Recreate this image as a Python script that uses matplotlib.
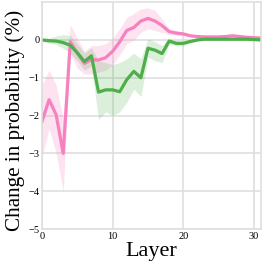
import numpy as np
import matplotlib
matplotlib.use("Agg")
import matplotlib.pyplot as plt

layers = np.arange(32)

pink_mean = [-2.15, -1.58, -1.98, -3.0, -0.05, -0.35, -0.62, -0.52, -0.53, -0.47,
             -0.3, -0.05, 0.25, 0.33, 0.5, 0.57, 0.5, 0.38, 0.22, 0.18,
             0.16, 0.11, 0.09, 0.08, 0.08, 0.08, 0.09, 0.11, 0.09, 0.07,
             0.06, 0.05]
pink_upper = [-1.2, -0.8, -1.2, -2.1, 0.4, 0.05, -0.3, -0.15, -0.15, -0.1,
              0.05, 0.3, 0.6, 0.7, 0.82, 0.85, 0.78, 0.55, 0.3, 0.25,
              0.2, 0.14, 0.12, 0.11, 0.11, 0.11, 0.12, 0.14, 0.12, 0.1,
              0.09, 0.08]
pink_lower = [-3.1, -2.35, -3.0, -4.0, -0.35, -0.75, -0.9, -0.9, -0.85, -0.8,
              -0.65, -0.4, -0.1, 0.0, 0.2, 0.3, 0.25, 0.2, 0.14, 0.12,
              0.12, 0.08, 0.06, 0.05, 0.05, 0.05, 0.06, 0.08, 0.06, 0.04,
              0.03, 0.02]

green_mean = [0.0, -0.02, -0.03, -0.07, -0.14, -0.34, -0.57, -0.42, -1.38, -1.32,
              -1.32, -1.37, -1.05, -0.83, -1.0, -0.22, -0.27, -0.36, -0.03, -0.09,
              -0.09, -0.04, 0.0, 0.02, 0.02, 0.02, 0.02, 0.02, 0.02, 0.02,
              0.01, 0.0]
green_upper = [0.04, 0.05, 0.1, 0.14, 0.12, -0.1, -0.35, -0.2, -0.55, -0.6,
               -0.65, -0.6, -0.5, -0.35, -0.5, 0.03, -0.05, -0.15, 0.03, -0.02,
               -0.03, 0.0, 0.03, 0.05, 0.05, 0.05, 0.05, 0.05, 0.05, 0.05,
               0.04, 0.03]
green_lower = [-0.04, -0.08, -0.12, -0.22, -0.35, -0.55, -0.8, -0.7, -2.1, -1.9,
               -2.0, -1.9, -1.65, -1.3, -1.5, -0.45, -0.55, -0.6, -0.1, -0.16,
               -0.15, -0.08, -0.03, -0.01, -0.01, -0.01, -0.01, -0.01, -0.01, -0.01,
               -0.02, -0.03]

pink = "#f781bf"
green = "#4daf4a"

plt.rcParams["font.family"] = "Liberation Serif"

fig = plt.figure(figsize=(2.66, 2.66), dpi=100)
ax = fig.add_axes([0.158, 0.139, 0.823, 0.853])

ax.fill_between(layers, pink_lower, pink_upper, color=pink, alpha=0.22, lw=0)
ax.fill_between(layers, green_lower, green_upper, color=green, alpha=0.2, lw=0)
ax.plot(layers, pink_mean, color=pink, lw=2.3)
ax.plot(layers, green_mean, color=green, lw=2.3)

ax.set_xlim(0, 31)
ax.set_ylim(-5, 1)
ax.set_xticks([0, 10, 20, 30])
ax.set_yticks([0, -1, -2, -3, -4, -5])
ax.grid(True, color="#dddddd", lw=1.1)
ax.set_axisbelow(True)
for s in ax.spines.values():
    s.set_color("#dddddd")
    s.set_linewidth(1.1)
ax.tick_params(length=0, labelsize=7.5, pad=2)

ax.set_xlabel("Layer", fontsize=16, labelpad=1)
ax.set_ylabel("Change in probability (%)", fontsize=15.2)
ax.yaxis.set_label_coords(-0.08, 0.48)

fig.savefig("out.png", dpi=100)
